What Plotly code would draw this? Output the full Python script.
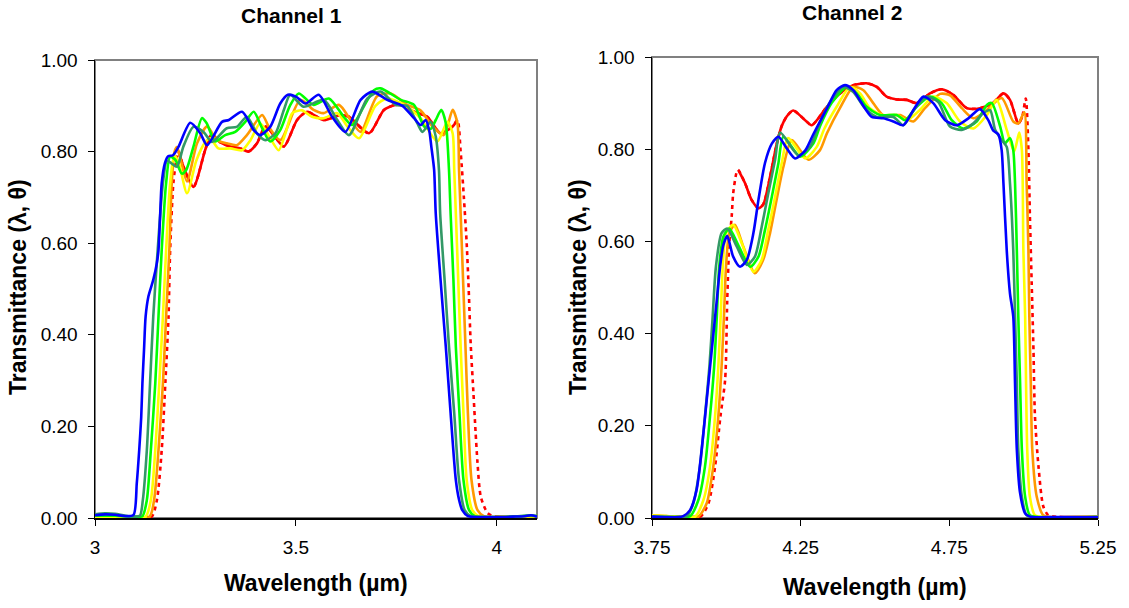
import plotly.graph_objects as go

# ---------------- Channel 1 data (wavelength in um, transmittance) ----------------
red1_w = [3.000, 3.080, 3.140, 3.154, 3.166, 3.175, 3.183, 3.187, 3.195, 3.202, 3.208, 3.219, 3.245, 3.274, 3.290,
          3.312, 3.337, 3.362, 3.382, 3.403, 3.424, 3.445, 3.470, 3.503, 3.528, 3.569, 3.611, 3.632, 3.682, 3.719,
          3.748, 3.769, 3.794, 3.827, 3.860, 3.890, 3.902, 3.910, 3.918, 3.925, 3.930, 3.935, 3.942, 3.947, 3.952,
          3.960, 3.977, 3.995, 4.050, 4.100]
red1_v = [0.001, 0.001, 0.002, 0.039, 0.148, 0.294, 0.440, 0.585, 0.731, 0.780, 0.800, 0.770, 0.723, 0.803, 0.838,
          0.820, 0.811, 0.807, 0.800, 0.818, 0.855, 0.836, 0.811, 0.869, 0.887, 0.869, 0.880, 0.876, 0.840, 0.891,
          0.902, 0.900, 0.887, 0.876, 0.840, 0.855, 0.869, 0.800, 0.700, 0.600, 0.500, 0.380, 0.270, 0.190, 0.120,
          0.047, 0.011, 0.003, 0.002, 0.003]

orange1_w = [3.000, 3.060, 3.135, 3.147, 3.158, 3.169, 3.177, 3.185, 3.191, 3.198, 3.204, 3.214, 3.229, 3.254, 3.279,
             3.303, 3.328, 3.353, 3.378, 3.416, 3.432, 3.461, 3.511, 3.544, 3.569, 3.607, 3.636, 3.661, 3.702, 3.736,
             3.777, 3.810, 3.840, 3.868, 3.890, 3.902, 3.906, 3.910, 3.916, 3.922, 3.928, 3.937, 3.952, 3.968, 4.000,
             4.060, 4.100]
orange1_v = [0.002, 0.002, 0.002, 0.039, 0.148, 0.294, 0.440, 0.585, 0.731, 0.800, 0.810, 0.780, 0.735, 0.818, 0.855,
             0.825, 0.818, 0.814, 0.836, 0.880, 0.855, 0.825, 0.913, 0.891, 0.884, 0.902, 0.869, 0.843, 0.921, 0.927,
             0.902, 0.890, 0.855, 0.836, 0.891, 0.862, 0.760, 0.665, 0.520, 0.374, 0.229, 0.083, 0.017, 0.004, 0.002,
             0.003, 0.003]

yellow1_w = [3.000, 3.060, 3.125, 3.139, 3.150, 3.160, 3.169, 3.177, 3.187, 3.197, 3.207, 3.229, 3.252, 3.274, 3.287,
             3.307, 3.337, 3.366, 3.387, 3.411, 3.436, 3.457, 3.474, 3.491, 3.515, 3.540, 3.569, 3.603, 3.628, 3.657,
             3.698, 3.727, 3.769, 3.810, 3.852, 3.877, 3.890, 3.894, 3.898, 3.904, 3.910, 3.917, 3.925, 3.939, 3.955,
             3.990, 4.050, 4.100]
yellow1_v = [0.003, 0.003, 0.002, 0.039, 0.148, 0.294, 0.440, 0.585, 0.731, 0.790, 0.780, 0.709, 0.780, 0.820, 0.829,
             0.807, 0.807, 0.803, 0.825, 0.862, 0.829, 0.803, 0.840, 0.884, 0.890, 0.876, 0.873, 0.884, 0.855, 0.829,
             0.900, 0.916, 0.902, 0.873, 0.822, 0.865, 0.840, 0.760, 0.665, 0.520, 0.374, 0.229, 0.083, 0.017, 0.004,
             0.002, 0.003, 0.004]

lime1_w = [3.000, 3.050, 3.100, 3.118, 3.129, 3.139, 3.150, 3.158, 3.166, 3.177, 3.187, 3.200, 3.216, 3.227, 3.245,
           3.266, 3.278, 3.299, 3.324, 3.349, 3.374, 3.395, 3.416, 3.436, 3.461, 3.485, 3.507, 3.544, 3.582, 3.619,
           3.640, 3.670, 3.694, 3.711, 3.761, 3.794, 3.819, 3.836, 3.848, 3.862, 3.873, 3.881, 3.885, 3.892, 3.898,
           3.907, 3.917, 3.931, 3.945, 3.980, 4.040, 4.080, 4.100]
lime1_v = [0.005, 0.005, 0.003, 0.004, 0.039, 0.148, 0.294, 0.440, 0.585, 0.731, 0.789, 0.782, 0.752, 0.760, 0.811,
           0.873, 0.862, 0.822, 0.836, 0.843, 0.865, 0.887, 0.851, 0.822, 0.847, 0.900, 0.927, 0.902, 0.916, 0.876,
           0.858, 0.900, 0.934, 0.938, 0.913, 0.902, 0.855, 0.850, 0.869, 0.891, 0.862, 0.760, 0.665, 0.520, 0.374,
           0.229, 0.083, 0.017, 0.004, 0.002, 0.003, 0.005, 0.004]

seagreen1_w = [3.000, 3.025, 3.050, 3.075, 3.100, 3.112, 3.119, 3.129, 3.137, 3.145, 3.156, 3.169, 3.179, 3.191, 3.204,
               3.220, 3.245, 3.270, 3.291, 3.328, 3.353, 3.378, 3.403, 3.424, 3.449, 3.470, 3.486, 3.519, 3.569, 3.603,
               3.632, 3.678, 3.711, 3.748, 3.777, 3.802, 3.815, 3.835, 3.848, 3.856, 3.859, 3.870, 3.881, 3.894, 3.906,
               3.920, 3.935, 3.970, 4.020, 4.060, 4.080, 4.100]
seagreen1_v = [0.008, 0.010, 0.009, 0.005, 0.003, 0.005, 0.039, 0.148, 0.294, 0.440, 0.585, 0.731, 0.780, 0.774, 0.767,
               0.811, 0.854, 0.843, 0.821, 0.851, 0.854, 0.876, 0.840, 0.825, 0.840, 0.891, 0.924, 0.898, 0.913, 0.869,
               0.836, 0.916, 0.931, 0.902, 0.900, 0.862, 0.843, 0.865, 0.833, 0.760, 0.665, 0.520, 0.374, 0.229, 0.083,
               0.017, 0.004, 0.002, 0.002, 0.004, 0.006, 0.004]

blue1_w = [3.000, 3.025, 3.050, 3.075, 3.096, 3.104, 3.110, 3.115, 3.118, 3.122, 3.126, 3.133, 3.145, 3.154, 3.158,
           3.162, 3.166, 3.174, 3.182, 3.194, 3.208, 3.237, 3.262, 3.279, 3.316, 3.333, 3.366, 3.395, 3.411, 3.436,
           3.461, 3.480, 3.500, 3.524, 3.557, 3.590, 3.623, 3.661, 3.690, 3.727, 3.765, 3.794, 3.810, 3.823, 3.832,
           3.837, 3.844, 3.848, 3.860, 3.873, 3.885, 3.898, 3.906, 3.914, 3.928, 3.960, 4.000, 4.040, 4.070, 4.085,
           4.100]
blue1_v = [0.006, 0.008, 0.007, 0.004, 0.007, 0.076, 0.148, 0.220, 0.294, 0.367, 0.440, 0.484, 0.520, 0.557, 0.585,
           0.658, 0.731, 0.775, 0.790, 0.792, 0.811, 0.863, 0.840, 0.814, 0.865, 0.869, 0.887, 0.847, 0.836, 0.854,
           0.905, 0.924, 0.920, 0.905, 0.924, 0.876, 0.843, 0.913, 0.931, 0.913, 0.900, 0.873, 0.858, 0.869, 0.845,
           0.811, 0.760, 0.665, 0.520, 0.374, 0.229, 0.083, 0.040, 0.017, 0.004, 0.002, 0.002, 0.003, 0.004, 0.006,
           0.003]

# ---------------- Channel 2 data ----------------
red2_w = [3.750, 3.800, 3.880, 3.913, 3.940, 3.962, 3.980, 3.996, 4.003, 4.010, 4.018, 4.023, 4.035, 4.040, 4.063,
          4.085, 4.108, 4.124, 4.147, 4.169, 4.186, 4.203, 4.225, 4.265, 4.287, 4.338, 4.382, 4.427, 4.472, 4.506,
          4.539, 4.573, 4.607, 4.640, 4.685, 4.724, 4.763, 4.809, 4.853, 4.898, 4.932, 4.954, 4.982, 4.995, 5.007,
          5.016, 5.021, 5.027, 5.033, 5.038, 5.050, 5.066, 5.083, 5.120, 5.250]
red2_v = [0.005, 0.003, 0.002, 0.003, 0.032, 0.111, 0.220, 0.300, 0.473, 0.596, 0.654, 0.704, 0.751, 0.755, 0.726,
          0.690, 0.672, 0.680, 0.740, 0.810, 0.850, 0.871, 0.884, 0.863, 0.852, 0.892, 0.921, 0.939, 0.943, 0.935,
          0.914, 0.908, 0.907, 0.900, 0.921, 0.930, 0.918, 0.889, 0.889, 0.901, 0.921, 0.907, 0.856, 0.870, 0.910,
          0.798, 0.654, 0.509, 0.364, 0.220, 0.111, 0.025, 0.006, 0.002, 0.002]

orange2_w = [3.750, 3.800, 3.870, 3.906, 3.934, 3.956, 3.973, 3.984, 3.992, 3.999, 4.010, 4.029, 4.057, 4.096, 4.124,
             4.147, 4.169, 4.192, 4.220, 4.276, 4.315, 4.338, 4.382, 4.427, 4.461, 4.494, 4.528, 4.584, 4.629, 4.668,
             4.719, 4.752, 4.792, 4.831, 4.876, 4.926, 4.965, 4.982, 5.002, 5.010, 5.016, 5.019, 5.024, 5.029, 5.044,
             5.066, 5.100, 5.250]
orange2_v = [0.006, 0.004, 0.002, 0.003, 0.032, 0.111, 0.220, 0.328, 0.437, 0.545, 0.618, 0.636, 0.589, 0.531, 0.560,
             0.618, 0.690, 0.762, 0.820, 0.777, 0.798, 0.834, 0.889, 0.935, 0.928, 0.900, 0.874, 0.874, 0.860, 0.889,
             0.920, 0.917, 0.889, 0.867, 0.885, 0.911, 0.860, 0.856, 0.880, 0.726, 0.581, 0.437, 0.292, 0.148, 0.046,
             0.006, 0.002, 0.003]

yellow2_w = [3.750, 3.800, 3.860, 3.895, 3.923, 3.945, 3.962, 3.973, 3.981, 3.988, 3.999, 4.023, 4.052, 4.091, 4.119,
             4.141, 4.164, 4.186, 4.208, 4.265, 4.304, 4.330, 4.371, 4.416, 4.450, 4.483, 4.523, 4.573, 4.607, 4.651,
             4.696, 4.741, 4.786, 4.831, 4.876, 4.909, 4.943, 4.968, 4.985, 4.994, 4.999, 5.005, 5.008, 5.012, 5.021,
             5.038, 5.080, 5.250]
yellow2_v = [0.006, 0.004, 0.002, 0.003, 0.039, 0.111, 0.220, 0.328, 0.437, 0.545, 0.618, 0.636, 0.596, 0.534, 0.560,
             0.625, 0.697, 0.769, 0.824, 0.780, 0.805, 0.845, 0.892, 0.935, 0.921, 0.889, 0.874, 0.874, 0.863, 0.885,
             0.914, 0.900, 0.860, 0.845, 0.874, 0.907, 0.842, 0.795, 0.836, 0.798, 0.581, 0.437, 0.292, 0.148, 0.046,
             0.006, 0.002, 0.003]

lime2_w = [3.750, 3.830, 3.878, 3.906, 3.928, 3.945, 3.959, 3.968, 3.976, 3.990, 4.010, 4.040, 4.080, 4.108, 4.130,
           4.153, 4.175, 4.192, 4.248, 4.293, 4.315, 4.354, 4.405, 4.439, 4.472, 4.517, 4.573, 4.601, 4.640, 4.685,
           4.724, 4.758, 4.797, 4.842, 4.876, 4.893, 4.921, 4.937, 4.954, 4.965, 4.971, 4.977, 4.982, 4.988, 4.994,
           5.005, 5.021, 5.060, 5.250]
lime2_v = [0.003, 0.002, 0.004, 0.039, 0.111, 0.220, 0.328, 0.437, 0.545, 0.610, 0.628, 0.592, 0.545, 0.567, 0.625,
           0.697, 0.769, 0.827, 0.784, 0.813, 0.850, 0.900, 0.935, 0.921, 0.892, 0.874, 0.874, 0.863, 0.892, 0.914,
           0.900, 0.863, 0.845, 0.860, 0.896, 0.900, 0.849, 0.813, 0.824, 0.798, 0.726, 0.581, 0.437, 0.292, 0.148,
           0.046, 0.006, 0.002, 0.002]

seagreen2_w = [3.750, 3.820, 3.867, 3.889, 3.911, 3.928, 3.943, 3.954, 3.965, 3.984, 4.003, 4.035, 4.069, 4.096, 4.119,
               4.141, 4.164, 4.181, 4.242, 4.281, 4.304, 4.343, 4.393, 4.427, 4.466, 4.506, 4.562, 4.595, 4.635, 4.674,
               4.713, 4.752, 4.792, 4.831, 4.864, 4.887, 4.904, 4.926, 4.943, 4.954, 4.965, 4.971, 4.977, 4.982, 4.994,
               5.010, 5.040, 5.250]
seagreen2_v = [0.003, 0.002, 0.004, 0.032, 0.111, 0.220, 0.328, 0.437, 0.545, 0.618, 0.628, 0.589, 0.549, 0.567, 0.632,
               0.704, 0.777, 0.836, 0.787, 0.805, 0.840, 0.896, 0.935, 0.924, 0.889, 0.870, 0.870, 0.852, 0.889, 0.914,
               0.902, 0.849, 0.842, 0.856, 0.878, 0.885, 0.842, 0.820, 0.805, 0.726, 0.581, 0.437, 0.292, 0.148, 0.046,
               0.006, 0.002, 0.002]

blue2_w = [3.750, 3.800, 3.840, 3.855, 3.878, 3.900, 3.917, 3.934, 3.951, 3.968, 3.979, 3.990, 4.003, 4.023, 4.046,
           4.069, 4.091, 4.108, 4.130, 4.153, 4.175, 4.203, 4.231, 4.265, 4.293, 4.338, 4.371, 4.399, 4.427, 4.455,
           4.489, 4.528, 4.562, 4.595, 4.629, 4.663, 4.696, 4.736, 4.775, 4.814, 4.853, 4.881, 4.898, 4.915, 4.926,
           4.932, 4.943, 4.954, 4.965, 4.971, 4.977, 4.988, 5.005, 5.021, 5.100, 5.250]
blue2_v = [0.003, 0.002, 0.002, 0.004, 0.017, 0.061, 0.148, 0.256, 0.364, 0.473, 0.545, 0.592, 0.612, 0.567, 0.545,
           0.560, 0.618, 0.690, 0.770, 0.812, 0.827, 0.802, 0.780, 0.797, 0.833, 0.888, 0.928, 0.939, 0.928, 0.900,
           0.870, 0.867, 0.860, 0.852, 0.885, 0.914, 0.900, 0.863, 0.852, 0.867, 0.887, 0.863, 0.840, 0.832, 0.798,
           0.726, 0.581, 0.487, 0.437, 0.292, 0.148, 0.054, 0.010, 0.003, 0.002, 0.002]

# wavelength ranges where the red (normal incidence) curve is drawn dotted
red1_dotted = [(3.145, 3.205), (3.903, 3.990)]
red2_dotted = [(3.930, 4.037), (5.000, 5.095)]

x1_ticks = [3, 3.5, 4]
x1_labels = ["3", "3.5", "4"]
x2_ticks = [3.75, 4.25, 4.75, 5.25]
x2_labels = ["3.75", "4.25", "4.75", "5.25"]
y_ticks = [0, 0.2, 0.4, 0.6, 0.8, 1.0]

COL = {"red": "#FF0000", "orange": "#FF9900", "yellow": "#FFFF00",
       "lime": "#00FF00", "seagreen": "#339966", "blue": "#0000FF"}
LW = 2.6
FONT = "Liberation Sans, Arial, sans-serif"

fig = go.Figure()


def line(w, v, color, xa, ya, dash="solid"):
    fig.add_trace(go.Scatter(
        x=w, y=v, mode="lines", xaxis=xa, yaxis=ya, showlegend=False, hoverinfo="skip",
        line=dict(color=color, width=LW, shape="spline", smoothing=0.7, dash=dash)))


def solid_part(w, v, ranges):
    return [None if any(a < x < b for a, b in ranges) else y for x, y in zip(w, v)]


panels = [
    ("x", "y", red1_w, red1_v, red1_dotted,
     [(orange1_w, orange1_v, "orange"), (yellow1_w, yellow1_v, "yellow"), (lime1_w, lime1_v, "lime"),
      (seagreen1_w, seagreen1_v, "seagreen"), (blue1_w, blue1_v, "blue")]),
    ("x2", "y2", red2_w, red2_v, red2_dotted,
     [(orange2_w, orange2_v, "orange"), (yellow2_w, yellow2_v, "yellow"), (lime2_w, lime2_v, "lime"),
      (seagreen2_w, seagreen2_v, "seagreen"), (blue2_w, blue2_v, "blue")]),
]

for xa, ya, rw, rv, rdot, others in panels:
    line(rw, rv, COL["red"], xa, ya, dash="4px,4px")
    line(rw, solid_part(rw, rv, rdot), COL["red"], xa, ya)
    for w, v, c in others:
        line(w, v, COL[c], xa, ya)

# the page's body margin is removed (post_script below), so the figure fills the window
W, H = 1129, 608


def px(x):
    return x / W


def py(y):
    return 1 - y / H


tickfont = dict(family=FONT, size=19, color="black")
common_x = dict(showgrid=False, zeroline=False, showline=True, linecolor="black", linewidth=1.5,
                ticks="outside", ticklen=6, tickcolor="black", tickwidth=1, tickfont=tickfont,
                ticklabelstandoff=6, automargin=False)
common_y = dict(showgrid=False, zeroline=False, showline=True, linecolor="black", linewidth=1.5,
                ticks="outside", ticklen=6, tickcolor="black", tickwidth=1, tickfont=tickfont,
                range=[0, 1], tickvals=y_ticks, tickformat=".2f", ticklabelstandoff=6, automargin=False)

fig.update_layout(
    template="none",
    width=W, height=H, margin=dict(l=0, r=0, t=0, b=0, pad=0, autoexpand=False),
    paper_bgcolor="white", plot_bgcolor="white",
    xaxis=dict(domain=[px(95), px(537)], range=[3, 4.1], tickvals=x1_ticks, ticktext=x1_labels,
               anchor="y", **common_x),
    yaxis=dict(domain=[py(518), py(60)], anchor="x", **common_y),
    xaxis2=dict(domain=[px(652), px(1098)], range=[3.75, 5.25], tickvals=x2_ticks, ticktext=x2_labels,
                anchor="y2", **common_x),
    yaxis2=dict(domain=[py(518), py(57)], anchor="x2", **common_y),
)

for xr, yr in [("x", "y"), ("x2", "y2")]:
    fig.add_shape(type="rect", xref=f"{xr} domain", yref=f"{yr} domain", x0=0, x1=1, y0=0, y1=1,
                  line=dict(color="#808080", width=2), layer="below")

title_font = dict(family=FONT, size=21, color="black")
axis_font = dict(family=FONT, size=23, color="black")
annots = [
    dict(text="<b>Channel 1</b>", x=px(291), y=py(16), font=title_font),
    dict(text="<b>Channel 2</b>", x=px(852), y=py(12), font=title_font),
    dict(text="<b>Wavelength (µm)</b>", x=px(316), y=py(583), font=axis_font),
    dict(text="<b>Wavelength (µm)</b>", x=px(875), y=py(587), font=axis_font),
    dict(text="<b>Transmittance (λ, θ)</b>", x=px(18), y=py(287), font=axis_font, textangle=-90),
    dict(text="<b>Transmittance (λ, θ)</b>", x=px(578), y=py(287), font=axis_font, textangle=-90),
]
for a in annots:
    fig.add_annotation(xref="paper", yref="paper", showarrow=False, xanchor="center", yanchor="middle", **a)

fig.write_html("out.html",
               config={"displayModeBar": False, "staticPlot": True},
               post_script="document.body.style.margin='0px';document.body.style.overflow='hidden';")
